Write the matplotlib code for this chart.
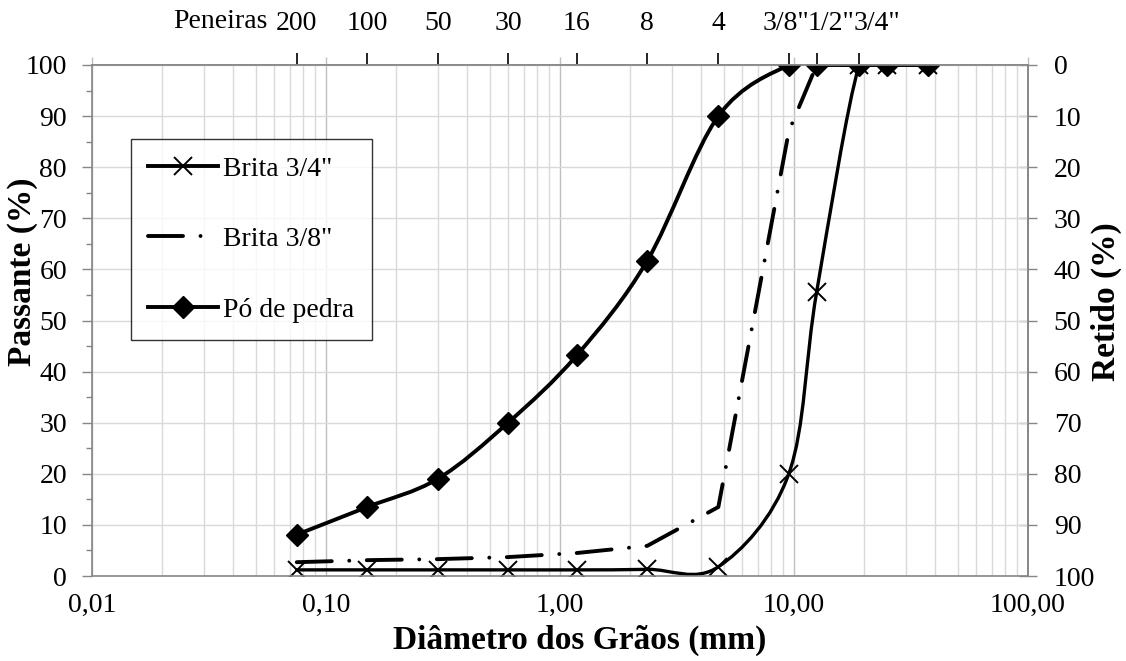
import numpy as np
import matplotlib
matplotlib.use("Agg")
import matplotlib.pyplot as plt
from matplotlib.path import Path
from matplotlib.patches import PathPatch
from matplotlib.lines import Line2D
from matplotlib.ticker import FixedLocator, FixedFormatter, MultipleLocator, NullFormatter, LogLocator
import matplotlib.transforms as mtransforms

plt.rcParams['font.family'] = ['Liberation Serif', 'DejaVu Serif']

# peneiras (mm)
diam = [0.075, 0.15, 0.3, 0.6, 1.18, 2.36, 4.75, 9.5, 12.5, 19.0, 25.0, 37.5]
sieve_x = [0.075, 0.15, 0.3, 0.6, 1.18, 2.36, 4.75, 9.5, 12.5, 19.0]
sieve_labels = ['200', '100', '50', '30', '16', '8', '4', '3/8"', '1/2"', '3/4"']

brita_34 = [1.2, 1.2, 1.2, 1.2, 1.2, 1.3, 1.8, 20.0, 55.6, 100, 100, 100]
brita_38 = [2.7, 3.1, 3.3, 3.7, 4.5, 5.9, 13.5, 87.0, 100, 100, 100, 100]
po_pedra = [8.1, 13.5, 19.0, 30.0, 43.2, 61.7, 90.0, 100, 100, 100, 100, 100]

x_major = [0.01, 0.1, 1, 10, 100]
x_major_labels = ['0,01', '0,10', '1,00', '10,00', '100,00']


def smooth_path(xs, ys):
    # curva suavizada estilo Excel (bezier), calculada em log10(x)
    pts = np.column_stack([np.log10(xs), ys])
    n = len(pts)
    verts = [pts[0]]
    codes = [Path.MOVETO]
    for i in range(n - 1):
        p0 = pts[i - 1] if i > 0 else pts[i]
        p1 = pts[i]
        p2 = pts[i + 1]
        p3 = pts[i + 2] if i + 2 < n else pts[i + 1]
        c1 = p1 + (p2 - p0) / 6.0
        c2 = p2 - (p3 - p1) / 6.0
        verts += [c1, c2, p2]
        codes += [Path.CURVE4] * 3
    verts = np.array(verts)
    verts[:, 0] = 10 ** verts[:, 0]
    return Path(verts, codes)


W, H = 1126, 661
fig = plt.figure(figsize=(W / 100, H / 100), dpi=100)
ax = fig.add_axes([92 / W, 1 - 576 / H, 936 / W, 511 / H])
ax.set_xscale('log')
ax.set_xlim(0.01, 100)
ax.set_ylim(0, 100)

fs = 20
gray = '#868686'
dashdot = (0, (9, 4.5, 0.01, 4.5))

ax.xaxis.set_major_locator(FixedLocator(x_major))
ax.xaxis.set_major_formatter(FixedFormatter(x_major_labels))
ax.xaxis.set_minor_locator(LogLocator(base=10, subs=np.arange(2, 10)))
ax.xaxis.set_minor_formatter(NullFormatter())
ax.yaxis.set_major_locator(MultipleLocator(10))
ax.yaxis.set_minor_locator(MultipleLocator(5))

ax.grid(which='major', axis='x', color='#bfbfbf', lw=1.0)
ax.grid(which='minor', axis='x', color='#d9d9d9', lw=1.0)
ax.grid(which='major', axis='y', color='#d9d9d9', lw=1.0)
ax.set_axisbelow(True)

ax.tick_params(axis='x', which='both', length=0, labelsize=fs, pad=12)
ax.tick_params(axis='y', which='major', length=7, width=1, color=gray, labelsize=fs, pad=11)
ax.tick_params(axis='y', which='minor', length=4.5, width=1, color=gray)
for s in ax.spines.values():
    s.set_color(gray)
    s.set_linewidth(1.2)

# curvas
ax.add_patch(PathPatch(smooth_path(diam, brita_34), fill=False, lw=2.4, ec='black',
                       capstyle='round', joinstyle='round'))
ax.plot(diam, brita_34, ls='none', marker='x', ms=12.5, mew=1.4, color='black')

ax.plot(diam, brita_38, color='black', lw=2.8, dash_capstyle='round', linestyle=dashdot)

ax.add_patch(PathPatch(smooth_path(diam, po_pedra), fill=False, lw=2.8, ec='black',
                       capstyle='round', joinstyle='round'))
ax.plot(diam, po_pedra, ls='none', marker='D', ms=11, color='black')

# eixo direito (retido)
sec_y = ax.secondary_yaxis('right', functions=(lambda y: 100 - y, lambda r: 100 - r))
sec_y.yaxis.set_major_locator(MultipleLocator(10))
sec_y.tick_params(axis='y', direction='inout', length=13, width=1, color=gray, labelsize=fs, pad=12)
sec_y.spines['right'].set_color(gray)
sec_y.spines['right'].set_linewidth(1.2)

# eixo superior (peneiras)
sec_x = ax.secondary_xaxis('top')
sec_x.set_xticks(sieve_x)
sec_x.set_xticklabels(sieve_labels)
sec_x.xaxis.set_minor_locator(FixedLocator(x_major))
sec_x.xaxis.set_minor_formatter(NullFormatter())
sec_x.tick_params(axis='x', which='major', length=9, width=1.2, color='black', labelsize=fs, pad=12)
sec_x.tick_params(axis='x', which='minor', length=6, width=1, color='#bfbfbf')
sec_x.spines['top'].set_color(gray)
sec_x.spines['top'].set_linewidth(1.2)
shifts = {'3/8"': -3, '1/2"': 14, '3/4"': 18}
for lab in sec_x.get_xticklabels():
    dx = shifts.get(lab.get_text(), 0)
    if dx:
        lab.set_transform(lab.get_transform() + mtransforms.ScaledTranslation(dx / 100, 0, fig.dpi_scale_trans))
fig.text(220 / W, 1 - 21 / H, 'Peneiras', fontsize=fs, ha='center', va='center')

fig.text(22 / W, 1 - 272 / H, 'Passante (%)', fontsize=24, fontweight='bold',
         rotation=90, ha='center', va='center')
fig.text(1106 / W, 1 - 302 / H, 'Retido (%)', fontsize=24, fontweight='bold',
         rotation=90, ha='center', va='center')
fig.text(580 / W, 1 - 640 / H, 'Diâmetro dos Grãos (mm)', fontsize=24, fontweight='bold',
         ha='center', va='center')

handles = [
    Line2D([], [], color='black', lw=2.8, marker='x', ms=12.5, mew=1.4),
    Line2D([], [], color='black', lw=2.8, dash_capstyle='round', linestyle=dashdot),
    Line2D([], [], color='black', lw=2.8, marker='D', ms=11),
]
leg = ax.legend(handles, ['Brita 3/4"', 'Brita 3/8"', 'Pó de pedra'], loc='upper left',
                bbox_to_anchor=((131 - 92) / 936, (576 - 139) / 511), borderaxespad=0,
                fontsize=fs, frameon=True, fancybox=False, edgecolor='black',
                handlelength=2.5, handletextpad=0.2, labelspacing=1.62, borderpad=0.62)
leg.get_frame().set_linewidth(1.0)

fig.savefig('out.png', dpi=100)
